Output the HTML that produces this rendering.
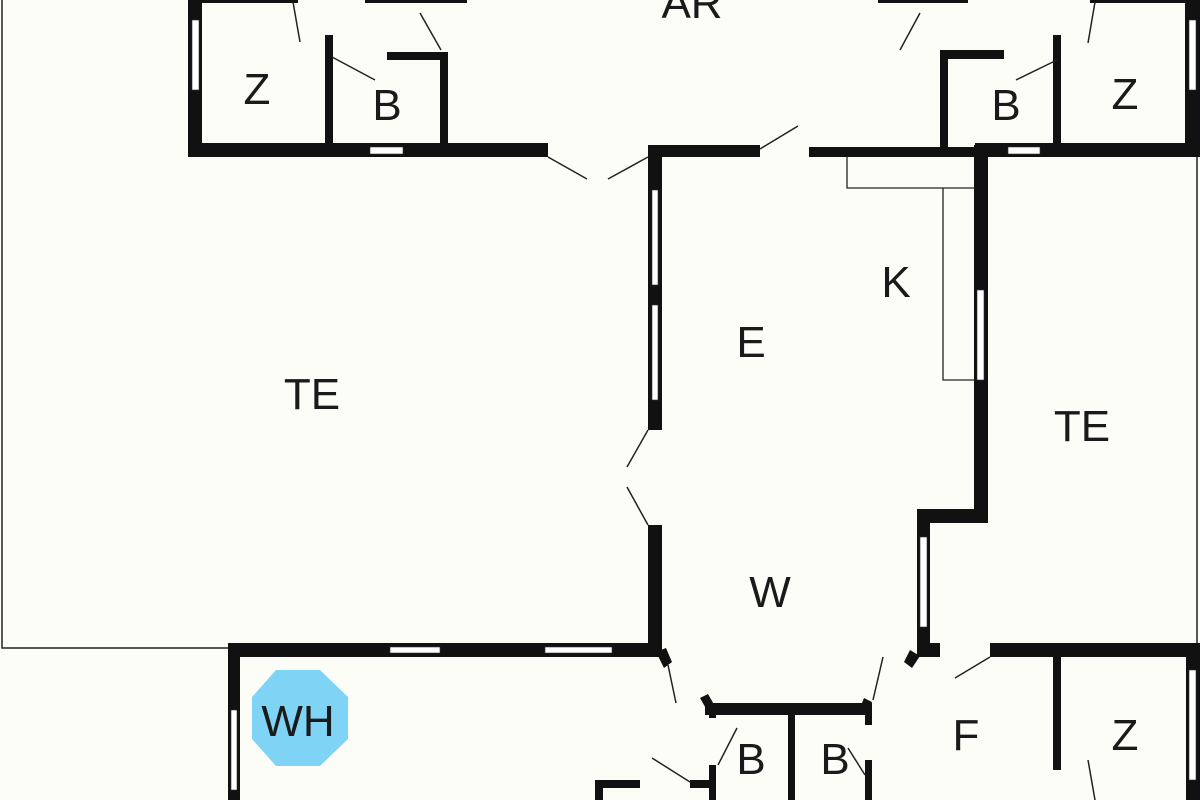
<!DOCTYPE html>
<html><head><meta charset="utf-8"><style>
html,body{margin:0;padding:0;background:#fdfdf8;}
svg{display:block}
text{font-family:"Liberation Sans",sans-serif;fill:#1a1a1a;text-anchor:middle}
</style></head><body>
<svg width="1200" height="800" viewBox="0 0 1200 800" xmlns="http://www.w3.org/2000/svg">
<rect width="1200" height="800" fill="#fdfdf8"/>
<!-- outer thin lines -->
<path d="M2 0 V648 H228" fill="none" stroke="#222" stroke-width="1.5"/>
<path d="M1197 157 V643" fill="none" stroke="#222" stroke-width="1.5"/>
<g fill="#111">
<!-- top-left block -->
<rect x="188" y="0" width="14" height="157"/>
<rect x="188" y="0" width="110" height="3"/>
<rect x="188" y="143" width="360" height="14"/>
<rect x="325" y="35" width="8" height="110"/>
<rect x="387" y="52" width="60" height="8"/>
<rect x="440" y="52" width="8" height="93"/>
<rect x="365" y="0" width="102" height="3"/>
<!-- top-right block -->
<rect x="878" y="0" width="90" height="3"/>
<rect x="940" y="50" width="8" height="100"/>
<rect x="940" y="50" width="64" height="9"/>
<rect x="1053" y="35" width="8" height="110"/>
<rect x="1185" y="0" width="15" height="157"/>
<rect x="975" y="143" width="225" height="14"/>
<rect x="1090" y="0" width="95" height="3"/>
<!-- E top -->
<rect x="648" y="145" width="112" height="12"/>
<rect x="809" y="147" width="170" height="10"/>
<!-- E left -->
<rect x="648" y="145" width="14" height="285"/>
<rect x="648" y="525" width="14" height="130"/>
<!-- right wall K -->
<rect x="974" y="145" width="14" height="378"/>
<rect x="917" y="509" width="71" height="14"/>
<rect x="917" y="509" width="13" height="146"/>
<rect x="917" y="643" width="23" height="14"/>
<rect x="990" y="643" width="210" height="14"/>
<rect x="1053" y="655" width="8" height="115"/>
<rect x="1186" y="655" width="14" height="145"/>
<!-- bottom -->
<rect x="228" y="643" width="434" height="14"/>
<rect x="228" y="643" width="12" height="157"/>
<rect x="705" y="703" width="165" height="12"/>
<rect x="709" y="703" width="7" height="15"/>
<rect x="709" y="765" width="7" height="35"/>
<rect x="788" y="703" width="7" height="97"/>
<rect x="865" y="703" width="7" height="22"/>
<rect x="865" y="760" width="7" height="40"/>
<rect x="595" y="780" width="45" height="8"/>
<rect x="595" y="780" width="8" height="20"/>
<rect x="690" y="780" width="25" height="8"/>
<polygon points="656,652 666,648 672,662 664,668"/>
<polygon points="700,698 708,694 716,708 708,712"/>
<polygon points="910,650 920,656 912,668 904,662"/>
<polygon points="864,698 872,702 868,712 860,708"/>
</g>
<!-- windows -->
<g fill="#fff" stroke="#333" stroke-width="0.6">
<rect x="192" y="20" width="7" height="70"/>
<rect x="370" y="147" width="33" height="7"/>
<rect x="1189" y="20" width="7" height="70"/>
<rect x="1008" y="147" width="32" height="7"/>
<rect x="652" y="190" width="6" height="95"/>
<rect x="652" y="305" width="6" height="95"/>
<rect x="977" y="290" width="7" height="90"/>
<rect x="920" y="537" width="7" height="90"/>
<rect x="390" y="647" width="50" height="6"/>
<rect x="545" y="647" width="67" height="6"/>
<rect x="231" y="710" width="6" height="80"/>
<rect x="1189" y="670" width="7" height="110"/>
</g>
<!-- kitchen counters -->
<path d="M847 157 V188 H975 M943 188 V380 H975" fill="none" stroke="#222" stroke-width="1.3"/>
<!-- door leaves -->
<g stroke="#222" stroke-width="1.5" fill="none">
<line x1="293" y1="2" x2="300" y2="42"/>
<line x1="332" y1="57" x2="375" y2="80"/>
<line x1="420" y1="13" x2="441" y2="50"/>
<line x1="548" y1="157" x2="587" y2="179"/>
<line x1="608" y1="179" x2="648" y2="157"/>
<line x1="920" y1="13" x2="900" y2="50"/>
<line x1="1057" y1="60" x2="1016" y2="80"/>
<line x1="1095" y1="2" x2="1088" y2="43"/>
<line x1="760" y1="149" x2="798" y2="126"/>
<line x1="648" y1="430" x2="627" y2="467"/>
<line x1="627" y1="487" x2="648" y2="525"/>
<line x1="668" y1="665" x2="676" y2="703"/>
<line x1="883" y1="657" x2="873" y2="700"/>
<line x1="990" y1="657" x2="955" y2="678"/>
<line x1="737" y1="728" x2="718" y2="765"/>
<line x1="848" y1="748" x2="865" y2="775"/>
<line x1="652" y1="758" x2="690" y2="782"/>
<line x1="1088" y1="760" x2="1095" y2="800"/>
</g>
<!-- WH octagon -->
<polygon points="276,670 320,670 348,697 348,739 320,766 276,766 252,739 252,697" fill="#7fd3f5"/>
<g font-size="44">
<text x="312" y="409">TE</text>
<text x="1082" y="441">TE</text>
<text x="751" y="357">E</text>
<text x="896" y="297">K</text>
<text x="770" y="607">W</text>
<text x="692" y="18">AR</text>
<text x="257" y="104">Z</text>
<text x="387" y="120">B</text>
<text x="1006" y="120">B</text>
<text x="1125" y="109">Z</text>
<text x="966" y="750">F</text>
<text x="1125" y="750">Z</text>
<text x="751" y="774">B</text>
<text x="835" y="774">B</text>
<text x="298" y="736">WH</text>
</g>
</svg>
</body></html>
